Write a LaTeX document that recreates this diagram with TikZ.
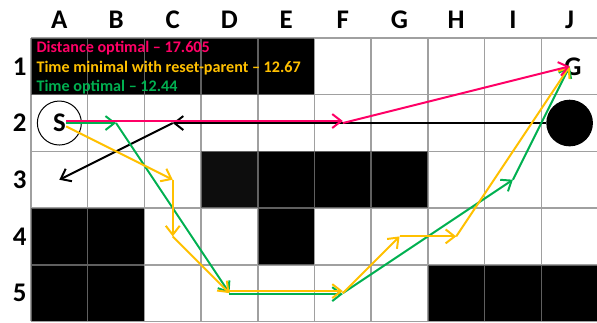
\documentclass[tikz,border=0pt]{standalone}
\usepackage{fontspec}
\setmainfont{Carlito}
\usetikzlibrary{arrows.meta}
\definecolor{distpink}{HTML}{FF0066}
\definecolor{resetgold}{HTML}{FFC000}
\definecolor{optgreen}{HTML}{00B050}
\definecolor{nearblack}{HTML}{0D0D0D}

\begin{document}
\begin{tikzpicture}[
    blocked/.style={fill=black},
    gridline/.style={draw=gray, opacity=0.75, line width=0.75pt},
    hdr/.style={font=\bfseries\fontsize{13.5}{14}\selectfont},
    keytext/.style={font=\bfseries\fontsize{8.1}{9}\selectfont, anchor=west, inner sep=0pt},
    move/.style={line width=1pt, -{Straight Barb[length=4.5pt,width=7pt]}},
]
    \useasboundingbox (-0.547,-0.01) rectangle (9.983,5.67);

    % obstacles
    \fill[blocked] (0,4) rectangle (5,5);
    \fill[nearblack] (3,2) rectangle (4,3);
    \fill[blocked] (4,2) rectangle (7,3);
    \fill[blocked] (0,1) rectangle (2,2);
    \fill[blocked] (4,1) rectangle (5,2);
    \fill[blocked] (0,0) rectangle (2,1);
    \fill[blocked] (7,0) rectangle (10,1);
    \draw[gridline] (0,0) grid (10,5);

    % column and row names
    \node[hdr] (colA) at (0.5,5.317) {A};
    \node[hdr] (colB) at (1.5,5.317) {B};
    \node[hdr] (colC) at (2.5,5.317) {C};
    \node[hdr] (colD) at (3.5,5.317) {D};
    \node[hdr] (colE) at (4.5,5.317) {E};
    \node[hdr] (colF) at (5.5,5.317) {F};
    \node[hdr] (colG) at (6.5,5.317) {G};
    \node[hdr] (colH) at (7.5,5.317) {H};
    \node[hdr] (colI) at (8.5,5.317) {I};
    \node[hdr] (colJ) at (9.5,5.317) {J};
    \node[hdr] (row1) at (-0.2,4.5) {1};
    \node[hdr] (row2) at (-0.2,3.5) {2};
    \node[hdr] (row3) at (-0.2,2.5) {3};
    \node[hdr] (row4) at (-0.2,1.5) {4};
    \node[hdr] (row5) at (-0.2,0.5) {5};

    % cell centres
    \coordinate (a2) at (0.5,3.5);
    \coordinate (a3) at (0.5,2.5);
    \coordinate (b2) at (1.5,3.5);
    \coordinate (c2) at (2.5,3.5);
    \coordinate (c3) at (2.5,2.5);
    \coordinate (c4) at (2.5,1.5);
    \coordinate (d5) at (3.5,0.5);
    \coordinate (f2) at (5.5,3.5);
    \coordinate (f5) at (5.5,0.5);
    \coordinate (g4) at (6.5,1.5);
    \coordinate (h4) at (7.5,1.5);
    \coordinate (i3) at (8.5,2.5);
    \coordinate (j1) at (9.5,4.5);
    \coordinate (j2) at (9.5,3.5);

    % legend
    \node[keytext, text=distpink] (kdist) at (0.09,4.82) {Distance optimal – 17.605};
    \node[keytext, text=resetgold] (kreset) at (0.09,4.47) {Time minimal with reset-parent – 12.67};
    \node[keytext, text=optgreen] (kopt) at (0.09,4.13) {Time optimal – 12.44};

    % start, goal and moving obstacle
    \node[draw, circle, line width=0.5pt, minimum size=0.776cm, inner sep=0pt] (sring) at (a2) {};
    \node[hdr, inner sep=0pt] (s) at (a2) {S};
    \node[hdr, inner sep=0pt] (g) at ([xshift=0.06cm]j1) {G};
    \node[circle, fill=black, minimum size=0.823cm, inner sep=0pt] (blob) at (j2) {};

    \draw[move, black] (blob) -- (c2);
    \draw[move, black] (c2) -- (a3);

    % time optimal
    \draw[move, optgreen] (s) -- (b2);
    \draw[move, optgreen] (b2) -- (d5);
    \draw[move, optgreen, transform canvas={yshift=-0.5pt}] (d5) -- (f5);
    \draw[move, optgreen] (f5) -- (i3);
    \draw[move, optgreen] (i3) -- (j1);

    % reset-parent
    \draw[move, resetgold] (s) -- (c3);
    \draw[move, resetgold] (c3) -- (c4);
    \draw[move, resetgold] (c4) -- (d5);
    \draw[move, resetgold, transform canvas={yshift=1pt}] (d5) -- (f5);
    \draw[move, resetgold] (f5) -- (g4);
    \draw[move, resetgold] (g4) -- (h4);
    \draw[move, resetgold] (h4) -- (j1);

    % distance optimal
    \draw[move, distpink, transform canvas={yshift=1pt}] (s) -- (f2);
    \draw[move, distpink] (f2) -- (j1);
\end{tikzpicture}
\end{document}
